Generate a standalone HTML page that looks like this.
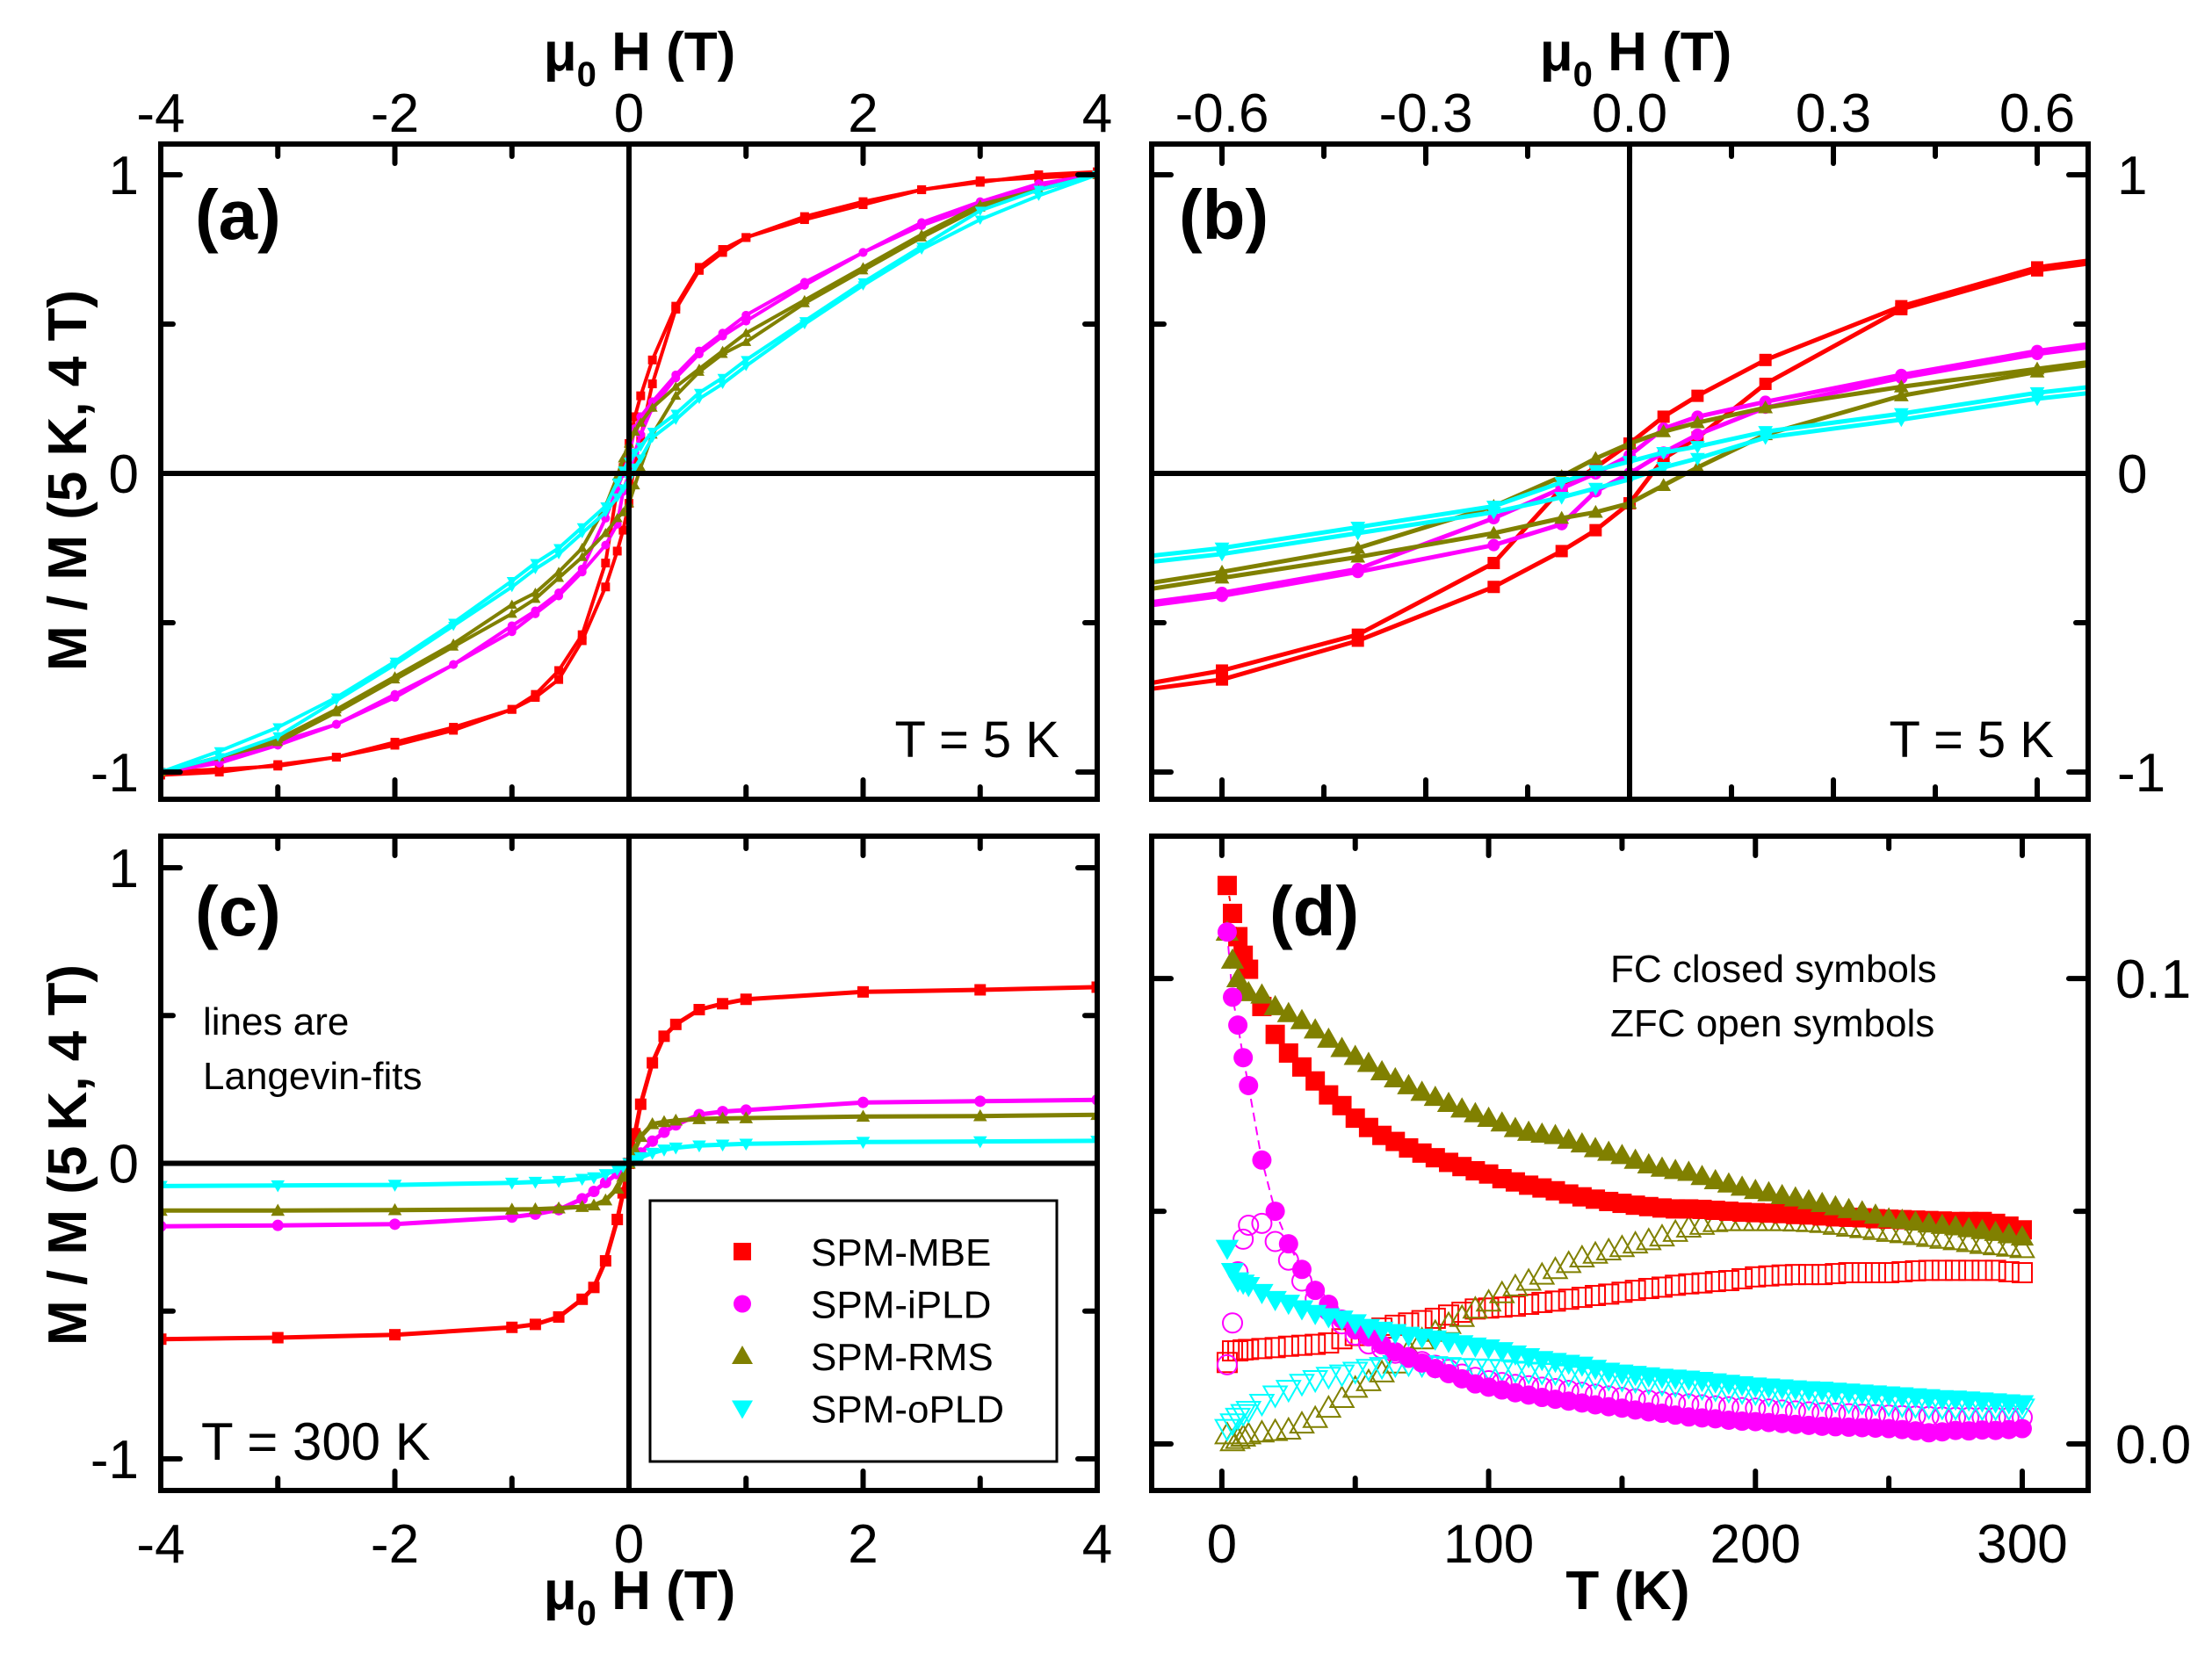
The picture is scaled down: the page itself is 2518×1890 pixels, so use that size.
<!DOCTYPE html>
<html><head><meta charset="utf-8"><style>
html,body{margin:0;padding:0;background:#fff;}
svg{display:block;}
text{font-family:"Liberation Sans",Arial,sans-serif;fill:#000;}
</style></head><body>
<svg id="fig" width="2518" height="1890" viewBox="0 0 2518 1890" xmlns="http://www.w3.org/2000/svg">
<rect width="2518" height="1890" fill="#fff"/>
<g id="layer"></g>
</svg>
<script>
// ---------- data: panels (a),(b) : 5 K hysteresis ----------
const H5 = [4,3.5,3,2.5,2,1.5,1,0.8,0.6,0.4,0.2,0.1,0.05,0,-0.05,-0.1,-0.2,-0.4,-0.6,-0.8,-1,-1.5,-2,-2.5,-3,-3.5,-4];
const mbeDown = [1.0,0.99,0.98,0.95,0.91,0.86,0.79,0.75,0.69,0.56,0.38,0.26,0.19,0.1,0.02,-0.05,-0.3,-0.54,-0.66,-0.74,-0.79,-0.85,-0.9,-0.95,-0.975,-1.0,-1.01];
const mbeUp = [1.01,1.0,0.975,0.95,0.9,0.85,0.79,0.74,0.68,0.55,0.3,0.12,0.05,-0.1,-0.19,-0.26,-0.38,-0.56,-0.69,-0.75,-0.79,-0.86,-0.91,-0.95,-0.98,-0.99,-1.0];
const ipldDown = [1.0,0.97,0.91,0.84,0.74,0.64,0.53,0.47,0.41,0.33,0.24,0.19,0.15,0.06,0.0,-0.05,-0.15,-0.32,-0.4,-0.46,-0.51,-0.64,-0.75,-0.84,-0.9,-0.96,-1.0];
const ipldUp = [1.0,0.96,0.9,0.83,0.74,0.63,0.51,0.46,0.4,0.32,0.22,0.13,0.07,0.0,-0.06,-0.17,-0.24,-0.33,-0.41,-0.47,-0.53,-0.64,-0.74,-0.84,-0.91,-0.97,-1.0];
const rmsDown = [1.0,0.95,0.9,0.8,0.69,0.58,0.47,0.41,0.35,0.29,0.22,0.17,0.14,0.1,0.05,-0.01,-0.11,-0.25,-0.33,-0.4,-0.44,-0.57,-0.68,-0.79,-0.89,-0.95,-1.0];
const rmsUp = [1.0,0.95,0.89,0.79,0.68,0.57,0.44,0.4,0.34,0.26,0.13,0.02,-0.04,-0.1,-0.13,-0.15,-0.2,-0.28,-0.35,-0.42,-0.47,-0.58,-0.69,-0.8,-0.9,-0.95,-1.0];
const opldDown = [1.0,0.95,0.88,0.76,0.64,0.51,0.38,0.32,0.27,0.2,0.14,0.09,0.07,0.04,0.01,-0.03,-0.11,-0.18,-0.25,-0.3,-0.36,-0.5,-0.63,-0.75,-0.85,-0.93,-1.0];
const opldUp = [1.0,0.93,0.85,0.75,0.63,0.5,0.36,0.3,0.25,0.18,0.12,0.05,0.02,-0.02,-0.05,-0.08,-0.13,-0.2,-0.27,-0.32,-0.38,-0.51,-0.64,-0.76,-0.88,-0.95,-1.0];
// ---------- data: panel (c) : 300 K ----------
const H300 = [-4,-3,-2,-1,-0.8,-0.6,-0.4,-0.3,-0.2,-0.1,-0.05,0,0.05,0.1,0.2,0.3,0.4,0.6,0.8,1,2,3,4];
const mbe300 = [-0.595,-0.59,-0.58,-0.555,-0.545,-0.52,-0.46,-0.42,-0.33,-0.19,-0.1,0,0.1,0.2,0.34,0.43,0.47,0.52,0.54,0.555,0.58,0.587,0.596];
const ipld300 = [-0.213,-0.21,-0.206,-0.182,-0.172,-0.157,-0.12,-0.095,-0.065,-0.035,-0.018,0,0.018,0.035,0.075,0.105,0.13,0.165,0.175,0.18,0.206,0.21,0.215];
const rms300 = [-0.16,-0.16,-0.158,-0.156,-0.155,-0.152,-0.147,-0.142,-0.125,-0.085,-0.045,0,0.045,0.09,0.133,0.14,0.145,0.15,0.152,0.153,0.158,0.16,0.164];
const opld300 = [-0.077,-0.075,-0.073,-0.066,-0.063,-0.06,-0.053,-0.048,-0.037,-0.02,-0.01,0,0.01,0.02,0.035,0.046,0.053,0.06,0.063,0.066,0.072,0.074,0.076];
// ---------- data: panel (d) : M(T), units of 1e-3 ----------
const temps = [2,4,6,8,10,15,20,25,30,35,40,45,50,55,60,65,70,75,80,85,90,95,100,105,110,115,120,125,130,135,140,145,150,155,160,165,170,175,180,185,190,195,200,205,210,215,220,225,230,235,240,245,250,255,260,265,270,275,280,285,290,295,300];
const mbeFC = [120,114,109,105,102, 94,88,84,81,78,75,72.7,70, 68,66.3,65,63.6,62.5,61.5,60.5,59.6,58.7,58, 57,56.3,55.6,55,54.4,53.7,53.1,52.6,52.1,51.7, 51.3,51,50.7,50.5,50.5,50.4,50.2,50,49.8,49.7, 49.6,49.5,49.3,49.2,49,48.8,48.7,48.6,48.4,48.3, 48.2,48.1,48,47.9,47.8,47.8,47.8,47.4,46.8,46];
const rmsFC = [110,104,100,98,97, 96.5,94,92.5,91,89,87,85,83.3, 81.8,80,78.5,77,75.6,74.5,73.2,72,71,70, 69,67.8,67,66.6,66.3,65.3,64.5,63.5,62.7,62, 61,60,59.3,58.8,58.4,57.5,56.6,55.9,55.2,54.5, 54,53.4,52.9,52.3,51.7,51,50.4,49.9,49.2,48.4, 48.1,47.7,47.3,47,46.7,46.3,45.9,45.5,45,44.5];
const ipldFC = [110,96,90,83,77, 61,50,43,37.5,33,30,26.8,24.5, 23,21.3,19.8,18.6,17.4,16.2,15.1,14,12.9,12.2, 11.6,11,10.5,10,9.6,9.2,8.8,8.4,8,7.7, 7.3,6.9,6.6,6.2,5.8,5.6,5.4,5.1,4.9,4.8, 4.6,4.4,4.2,4,3.8,3.7,3.6,3.5,3.4,3.3, 3.1,2.8,2.4,2.6,2.9,2.8,3,2.9,3.1,3.3];
const opldFC = [42,37,35,34.5,34, 32.5,31,30.2,29,28,27.3,26.8,26, 25,24.4,23.9,23.3,22.9,22.5,22,21.5,21,20.6, 20,19.3,18.7,18.1,17.7,17.3,16.9,16.2,15.6,15.2, 14.9,14.6,14.3,14.1,13.9,13.6,13.3,13,12.7,12.4, 12.2,12,11.8,11.6,11.5,11.3,11.1,10.9,10.7,10.5, 10.3,10.1,9.9,9.7,9.6,9.4,9.2,9,8.8,8.6];
const mbeZFC = [17.5,20,20,20.2,20.3, 20.5,20.7,21,21.2,21.4,21.7,22.6,23.3, 24,24.9,25.5,26,26.5,27,27.7,28.3,29,29.2, 29.4,29.6,30,30.4,30.7,31.1,31.5,31.9,32.2,32.6, 33,33.4,33.7,34.1,34.4,34.6,34.9,35.1,35.5,35.9, 36.1,36.3,36.4,36.4,36.4,36.6,36.8,36.8,36.8,36.8, 37,37.2,37.3,37.3,37.3,37.3,37.3,37.3,37,36.8];
const rmsZFC = [2,0.5,1,1.5,2, 2.4,2.7,3,4.3,5.5,7.7,9.8,12, 13.4,15.3,17.2,20,22.4,24,25.7,27.2,29,30.5, 32.3,33.8,35,36.3,37.5,38.8,40,40.8,41.5,42.2, 43,43.7,44.5,45.5,46.4,47,47.6,47.8,47.8,47.8, 47.8,47.8,47.7,47.6,47.4,47,46.6,46.3,45.9,45.5, 45.2,44.8,44.4,44,43.7,43.3,42.9,42.6,42.3,42];
const ipldZFC = [17,26,37,44,47, 47.4,43.5,39.5,35,31.2,28.7,25.8,23.4, 21.5,20.5,19.5,18.6,17.7,16.9,16,15,14.3,13.6, 13.2,12.8,12.5,12.2,11.9,11.5,11.1,10.7,10.3,10, 9.7,9.4,9.1,8.8,8.6,8.4,8.2,8,7.8,7.7, 7.5,7.3,7.1,6.9,6.7,6.6,6.5,6.4,6.3,6.2, 6.1,6,5.9,5.8,5.7,5.7,5.7,5.7,5.7,5.7];
const opldZFC = [3.3,4.5,5.7,6.5,7.2, 8.7,10.5,11.7,13,13.8,14.5,15,15.6, 16.2,16.6,17,17.2,17,16.8,16.6,16.4,16.3,16.2, 16.1,15.8,15.6,15.4,15.3,15,14.7,14.4,14.1,13.9, 13.6,13.3,13,12.7,12.4,12.1,11.8,11.5,11.2,11, 10.7,10.4,10.1,9.9,9.6,9.4,9.2,9,8.8,8.6, 8.4,8.2,8,7.9,7.8,7.7,7.7,7.7,7.7,7.7];
const seriesNames = ['SPM-MBE','SPM-iPLD','SPM-RMS','SPM-oPLD'];
const ticksHa = [-4,-2,0,2,4];
const ticksHb = [-0.6,-0.3,0,0.3,0.6];
const ticksHbLabels = ['-0.6','-0.3','0.0','0.3','0.6'];
const ticksM = [-1,0,1];
const ticksT = [0,100,200,300];
const ticksMd = [0,0.1];
const ticksMdLabels = ['0.0','0.1'];

const NS='http://www.w3.org/2000/svg';
const root=document.getElementById('layer');
const COL=['#ff0000','#ff00ff','#808000','#00ffff'];
const SHAPE=['square','circle','up','down'];
function mk(tag,attrs,parent){const e=document.createElementNS(NS,tag);for(const k in attrs)e.setAttribute(k,attrs[k]);(parent||root).appendChild(e);return e;}
function txt(s,x,y,size,anchor,weight,parent){const t=mk('text',{x:x,y:y,'font-size':size,'text-anchor':anchor||'start','font-weight':weight||'normal'},parent);t.textContent=s;return t;}
function panel(id,x0,x1,y0,y1,xd,yd){
  const p={id,x0,x1,y0,y1,xd,yd};
  p.sx=v=>x0+(v-xd[0])/(xd[1]-xd[0])*(x1-x0);
  p.sy=v=>y1-(v-yd[0])/(yd[1]-yd[0])*(y1-y0);
  const cp=mk('clipPath',{id:'clip-'+id});mk('rect',{x:x0,y:y0,width:x1-x0,height:y1-y0},cp);
  p.g=mk('g',{'clip-path':'url(#clip-'+id+')'});
  
  
  return p;
}
function marker(g,shape,x,y,s,color,open){
  let e;const fill=open?'none':color;const st=open?color:'none';
  if(shape==='square')e=mk('rect',{x:x-s/2,y:y-s/2,width:s,height:s,fill:fill,stroke:st,'stroke-width':2},g);
  else if(shape==='circle')e=mk('circle',{cx:x,cy:y,r:s/2,fill:fill,stroke:st,'stroke-width':2},g);
  else if(shape==='up')e=mk('polygon',{points:`${x},${y-s*0.6} ${x-s*0.6},${y+s*0.45} ${x+s*0.6},${y+s*0.45}`,fill:fill,stroke:st,'stroke-width':2},g);
  else e=mk('polygon',{points:`${x},${y+s*0.6} ${x-s*0.6},${y-s*0.45} ${x+s*0.6},${y-s*0.45}`,fill:fill,stroke:st,'stroke-width':2},g);
  return e;
}
function series(p,xs,ys,i,opt,name){
  const g=mk('g',{},p.g);
  
  
  const n=Math.min(xs.length,ys.length);
  if(opt.line){let d='';for(let k=0;k<n;k++)d+=(k?'L':'M')+p.sx(xs[k]).toFixed(1)+','+p.sy(ys[k]*(opt.scale||1)).toFixed(1);
    mk('path',{d:d,fill:'none',stroke:COL[i],'stroke-width':opt.line,'stroke-linejoin':'round','stroke-dasharray':opt.dash||'none'},g);}
  if(opt.ms){for(let k=0;k<n;k++){const m=marker(g,SHAPE[i],p.sx(xs[k]),p.sy(ys[k]*(opt.scale||1)),opt.ms,COL[i],opt.open);
    
    }}
}
function frame(p){
  const f=mk('rect',{x:p.x0,y:p.y0,width:p.x1-p.x0,height:p.y1-p.y0,fill:'none',stroke:'#000','stroke-width':6});
  
  
}
function ticks(p,xt,yt,xmaj,ymaj){
  const g=mk('g',{stroke:'#000','stroke-width':6,'stroke-linecap':'round'});
  
  
  xt.forEach(v=>{const L=xmaj(v)?22:14;const x=p.sx(v);
    mk('line',{x1:x,y1:p.y0,x2:x,y2:p.y0+L},g);mk('line',{x1:x,y1:p.y1,x2:x,y2:p.y1-L},g);});
  yt.forEach(v=>{const L=ymaj(v)?22:14;const y=p.sy(v);
    mk('line',{x1:p.x0,y1:y,x2:p.x0+L,y2:y},g);mk('line',{x1:p.x1,y1:y,x2:p.x1-L,y2:y},g);});
}
function zeroLines(p){
  const g=mk('g',{stroke:'#000','stroke-width':6});
  
  
  mk('line',{x1:p.sx(0),y1:p.y0,x2:p.sx(0),y2:p.y1},g);
  mk('line',{x1:p.x0,y1:p.sy(0),x2:p.x1,y2:p.sy(0)},g);
}

const A=panel('a',183,1249,164,910,[-4,4],[-1.091,1.103]);
const B=panel('b',1311,2377,164,910,[-0.7035,0.675],[-1.091,1.103]);
const C=panel('c',183,1249,952,1697,[-4,4],[-1.107,1.107]);
const D=panel('d',1311,2377,952,1697,[-26.3,324.7],[-0.0100,0.1306]);

[A,B,C].forEach(zeroLines);

const down5=[mbeDown,ipldDown,rmsDown,opldDown], up5=[mbeUp,ipldUp,rmsUp,opldUp];
[[A,4,10],[B,5,14]].forEach(([p,lw,ms])=>{
  for(let i=0;i<4;i++){
    series(p,H5,down5[i],i,{line:lw,ms:ms},'series-'+seriesNames[i].toLowerCase()+'-down-'+p.id);
    series(p,H5,up5[i],i,{line:lw,ms:ms},'series-'+seriesNames[i].toLowerCase()+'-up-'+p.id);
  }
});
[mbe300,ipld300,rms300,opld300].forEach((arr,i)=>series(C,H300,arr,i,{line:5,ms:13},'series-'+seriesNames[i].toLowerCase()+'-300k'));
series(D,temps.slice(0,9),ipldFC.slice(0,9),1,{line:2,scale:0.001,dash:'10,6'},'langevin-fit-ipld');
series(D,temps.slice(0,4),mbeFC.slice(0,4),0,{line:2,scale:0.001,dash:'6,6'},'fit-mbe');
[mbeZFC,ipldZFC,rmsZFC,opldZFC].forEach((arr,i)=>series(D,temps,arr,i,{ms:22,scale:0.001,open:true},'series-'+seriesNames[i].toLowerCase()+'-zfc'));
[mbeFC,rmsFC,ipldFC,opldFC].forEach((arr,j)=>{const i=[0,2,1,3][j];series(D,temps,arr,i,{ms:22,scale:0.001},'series-'+seriesNames[i].toLowerCase()+'-fc');});

[A,B,C,D].forEach(frame);
ticks(A,[-4,-3,-2,-1,0,1,2,3,4],[-1,-0.5,0,0.5,1],v=>v%2===0,v=>Number.isInteger(v));
ticks(B,[-0.6,-0.45,-0.3,-0.15,0,0.15,0.3,0.45,0.6],[-1,-0.5,0,0.5,1],v=>Math.abs(Math.round(v/0.3)*0.3-v)<1e-6,v=>Number.isInteger(v));
ticks(C,[-4,-3,-2,-1,0,1,2,3,4],[-1,-0.5,0,0.5,1],v=>v%2===0,v=>Number.isInteger(v));
ticks(D,[0,50,100,150,200,250,300],[0,0.05,0.1],v=>v%100===0,v=>Math.abs(v-0.05)>1e-6);

const TL=mk('g',{});
ticksHa.forEach(v=>{txt(String(v),A.sx(v),150,62,'middle','normal',TL);txt(String(v),C.sx(v),1779,62,'middle','normal',TL);});
ticksHb.forEach((v,k)=>txt(ticksHbLabels[k],B.sx(v),150,62,'middle','normal',TL));
ticksM.forEach(v=>{txt(String(v),158,A.sy(v)+22,62,'end','normal',TL);txt(String(v),158,C.sy(v)+22,62,'end','normal',TL);txt(String(v),2410,B.sy(v)+22,62,'start','normal',TL);});
ticksT.forEach(v=>txt(String(v),D.sx(v),1779,62,'middle','normal',TL));
ticksMd.forEach((v,k)=>txt(ticksMdLabels[k],2408,D.sy(v)+22,62,'start','normal',TL));

function muTitle(x,y,name){const t=mk('text',{x:x,y:y,'font-size':62,'font-weight':'bold','text-anchor':'middle'});
  
  t.innerHTML='μ<tspan font-size="40" dy="18">0</tspan><tspan dy="-18"> H (T)</tspan>';}
muTitle(728,80,'top-x-axis-title-a');
muTitle(1862,80,'top-x-axis-title-b');
muTitle(728,1832,'x-axis-title-c');
const tk=txt('T (K)',1853,1832,62,'middle','bold');
[[547,'y-axis-title-a'],[1315,'y-axis-title-c']].forEach(([cy,n])=>{
  const t=mk('text',{x:0,y:0,'font-size':62,'font-weight':'bold','text-anchor':'middle',transform:`translate(98,${cy}) rotate(-90)`});
  t.textContent='M / M (5 K, 4 T)';
  });

function ann(s,x,y,size,anchor,weight,name){const t=txt(s,x,y,size,anchor,weight);}
ann('(a)',222,272,80,'start','bold','panel-label-a');
ann('(b)',1342,272,80,'start','bold','panel-label-b');
ann('(c)',222,1065,80,'start','bold','panel-label-c');
ann('(d)',1445,1065,80,'start','bold','panel-label-d');
ann('T = 5 K',1206,862,58,'end','normal','temperature-label-a');
ann('T = 5 K',2338,862,58,'end','normal','temperature-label-b');
ann('T = 300 K',229,1662,60,'start','normal','temperature-label-c');
ann('lines are',231,1178,44,'start','normal','note-lines');
ann('Langevin-fits',231,1240,44,'start','normal','note-langevin');
ann('FC closed symbols',1833,1118,44,'start','normal','note-fc');
ann('ZFC open symbols',1833,1180,44,'start','normal','note-zfc');

const lg=mk('g',{});
mk('rect',{x:740,y:1367,width:463,height:297,fill:'#fff',stroke:'#000','stroke-width':3},lg);
seriesNames.forEach((n,i)=>{const y=1425+i*59.5;
  const e=mk('g',{},lg);
  marker(e,SHAPE[i],845,y,20,COL[i],false);
  txt(n,923,y+16,44,'start','normal',e);});
</script>
</body></html>
